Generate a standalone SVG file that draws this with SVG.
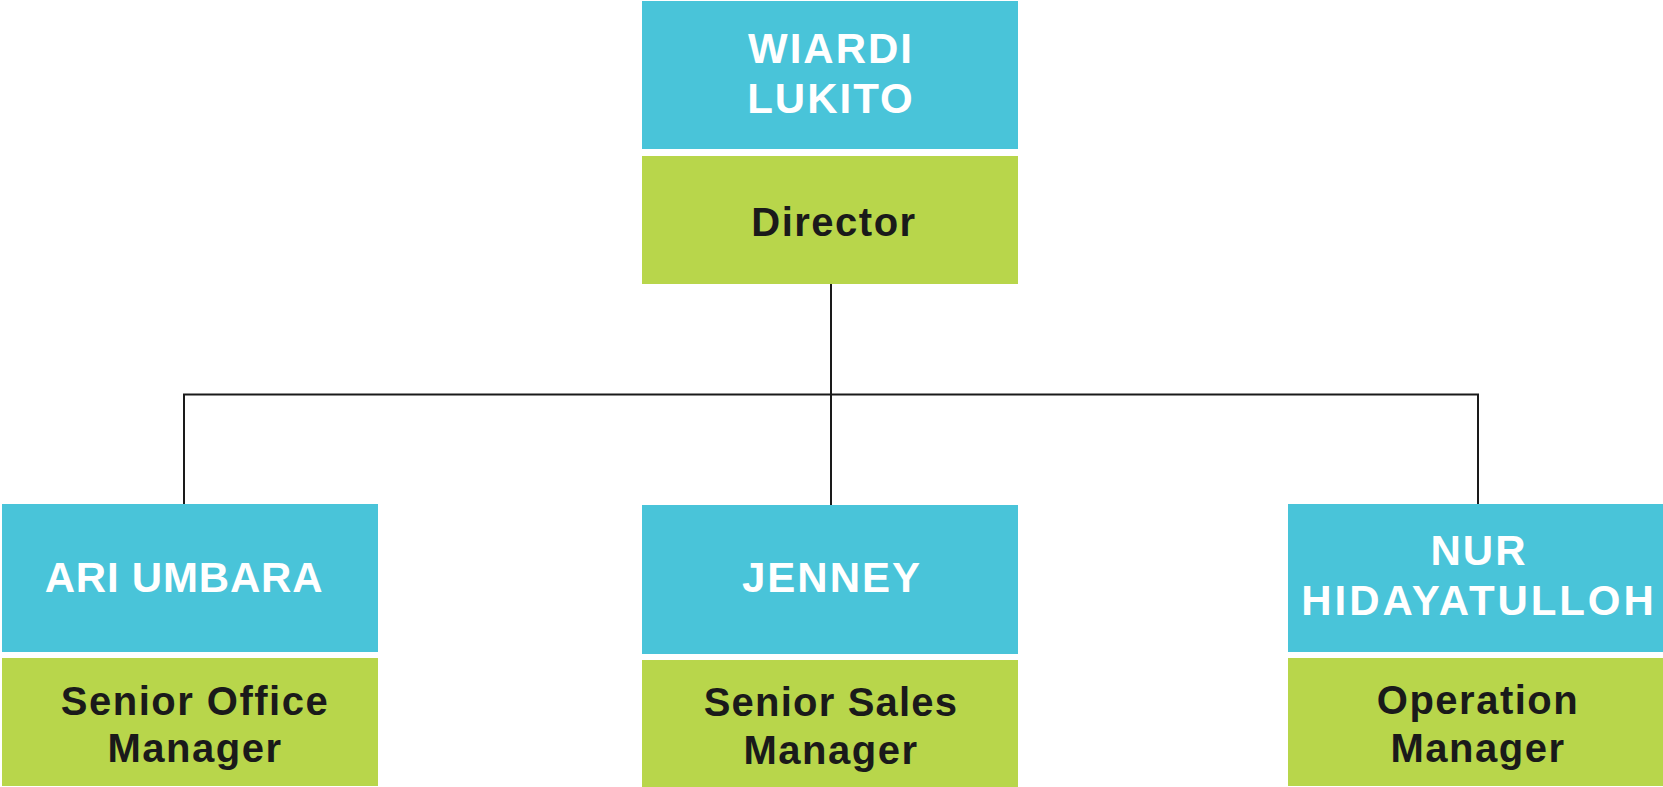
<svg xmlns="http://www.w3.org/2000/svg" width="1663" height="787" viewBox="0 0 1663 787">
<style>
.bg{fill:#ffffff}
.name{fill:#49C4D9}
.role{fill:#B8D64B}
.nt{font-family:"Liberation Sans",Arial,sans-serif;font-weight:bold;font-size:42px;fill:#ffffff;letter-spacing:2px;text-anchor:middle}
.rt{font-family:"Liberation Sans",Arial,sans-serif;font-weight:bold;font-size:40px;fill:#1a1a1a;letter-spacing:1.5px;text-anchor:middle}
.conn{stroke:#1a1a1a;stroke-width:2;fill:none}
</style>
<rect class="bg" x="0" y="0" width="1663" height="787"/>
<g id="connectors">
<path class="conn" d="M831 284 V505"/>
<path class="conn" d="M184 504 V394.5 H1478 V504"/>
</g>
<g id="node-wiardi">
<rect class="name" x="642" y="1" width="376" height="148"/>
<rect class="role" x="642" y="156" width="376" height="128"/>
<text class="nt" x="831" y="63">WIARDI</text>
<text class="nt" x="831" y="113">LUKITO</text>
<text class="rt" x="834" y="236">Director</text>
</g>
<g id="node-ari">
<rect class="name" x="2" y="504" width="376" height="148"/>
<rect class="role" x="2" y="658" width="376" height="128"/>
<text class="nt" x="184" y="592" style="letter-spacing:0.8px">ARI UMBARA</text>
<text class="rt" x="195" y="715">Senior Office</text>
<text class="rt" x="195" y="762">Manager</text>
</g>
<g id="node-jenney">
<rect class="name" x="642" y="505" width="376" height="149"/>
<rect class="role" x="642" y="660" width="376" height="127"/>
<text class="nt" x="832" y="592">JENNEY</text>
<text class="rt" x="831" y="716" style="letter-spacing:1.2px">Senior Sales</text>
<text class="rt" x="831" y="764">Manager</text>
</g>
<g id="node-nur">
<rect class="name" x="1288" y="504" width="375" height="148"/>
<rect class="role" x="1288" y="658" width="375" height="128"/>
<text class="nt" x="1479" y="565">NUR</text>
<text class="nt" x="1479" y="615" style="letter-spacing:2.9px">HIDAYATULLOH</text>
<text class="rt" x="1478" y="714">Operation</text>
<text class="rt" x="1478" y="762">Manager</text>
</g>
</svg>
